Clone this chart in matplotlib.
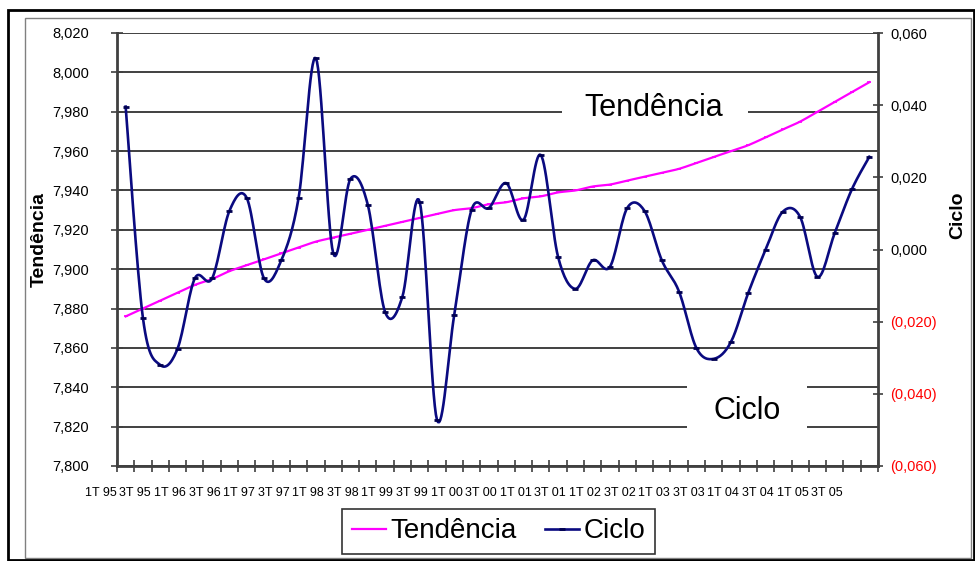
import numpy as np
import matplotlib

matplotlib.use("Agg")
from matplotlib import pyplot as plt
from matplotlib.patches import Rectangle
from matplotlib.transforms import ScaledTranslation

plt.rcParams["font.family"] = ["Liberation Sans", "DejaVu Sans"]

years = ["95", "96", "97", "98", "99", "00", "01", "02", "03", "04", "05"]
quarters = [f"{q}T {y}" for y in years for q in (1, 2, 3, 4)]
tick_labels = quarters[::2]

tendencia = [7.876, 7.880, 7.884, 7.888, 7.892, 7.895, 7.899, 7.902, 7.905, 7.908,
             7.911, 7.914, 7.916, 7.918, 7.920, 7.922, 7.924, 7.926, 7.928, 7.930,
             7.931, 7.933, 7.934, 7.936, 7.937, 7.939, 7.940, 7.942, 7.943, 7.945,
             7.947, 7.949, 7.951, 7.954, 7.957, 7.960, 7.963, 7.967, 7.971, 7.975,
             7.980, 7.985, 7.990, 7.995]

ciclo = [0.0396, -0.0190, -0.0320, -0.0275, -0.0080, -0.0080, 0.0107, 0.0143, -0.0080, -0.0030,
         0.0143, 0.0530, -0.0010, 0.0196, 0.0124, -0.0173, -0.0131, 0.0132, -0.0472, -0.0181,
         0.0110, 0.0115, 0.0184, 0.0082, 0.0262, -0.0020, -0.0109, -0.0030, -0.0048, 0.0115,
         0.0107, -0.0030, -0.0117, -0.0273, -0.0303, -0.0256, -0.0120, -0.0001, 0.0105, 0.0090,
         -0.0076, 0.0046, 0.0168, 0.0257]

left_ticks = np.linspace(7.8, 8.02, 12)
right_ticks = np.linspace(-0.06, 0.06, 7)

N = 16


def smooth(x, y, n=N):
    # bezier smoothing like excel's "smoothed line"
    p = np.column_stack([x, y]).astype(float)
    p = np.vstack([p[0], p, p[-1]])
    out = []
    t = np.linspace(0, 1, n, endpoint=False)[:, None]
    for i in range(1, len(p) - 2):
        p0, p1, p2, p3 = p[i - 1], p[i], p[i + 1], p[i + 2]
        c1 = p1 + (p2 - p0) / 6
        c2 = p2 - (p3 - p1) / 6
        out.append((1 - t) ** 3 * p1 + 3 * (1 - t) ** 2 * t * c1 + 3 * (1 - t) * t ** 2 * c2 + t ** 3 * p2)
    out.append(p[-2][None])
    out = np.vstack(out)
    return out[:, 0], out[:, 1]


def fmt_left(v):
    return f"{v:.3f}".replace(".", ",")


def fmt_right(v):
    s = f"{abs(v):.3f}".replace(".", ",")
    return f"({s})" if v < -1e-9 else s


fig = plt.figure(figsize=(9.75, 5.61), dpi=100)
ax = fig.add_axes([117 / 975, 1 - 466 / 561, 761 / 975, 433 / 561])
ax2 = ax.twinx()

x = np.arange(len(quarters))
tx, ty = smooth(x, tendencia)
cx, cy = smooth(x, ciclo)

l1, = ax.plot(tx, ty, color="#ff00ff", lw=1.6, marker="_", ms=3, mew=1.2,
              markevery=slice(0, None, N), zorder=3)
l2, = ax2.plot(cx, cy, color="#0a0a80", lw=1.9, marker="_", ms=5, mew=2, mec="#000050",
               markevery=slice(0, None, N), zorder=3)

ax.set_xlim(-0.5, len(quarters) - 0.5)
ax.set_ylim(7.8, 8.02)
ax2.set_ylim(-0.06, 0.06)

ax.set_yticks(left_ticks)
ax.set_yticklabels([fmt_left(v) for v in left_ticks])
ax2.set_yticks(right_ticks)
ax2.set_yticklabels([fmt_right(v) for v in right_ticks])
for lab in ax2.get_yticklabels():
    if "(" in lab.get_text():
        lab.set_color("red")

ax.yaxis.grid(True, color="#404040", lw=1.4)
ax.set_axisbelow(True)

axc = "#404040"
ax.tick_params(axis="y", direction="inout", length=9, width=1.2, color=axc, pad=15.5, labelsize=10.5)
ax2.tick_params(axis="y", direction="inout", length=6.5, width=1.2, color=axc, pad=5.4, labelsize=10.5)
ax.tick_params(axis="x", which="minor", direction="inout", length=8, width=1.2, color=axc)
ax.tick_params(axis="x", which="major", length=0, pad=15, labelsize=9)

ax.set_xticks(np.arange(-0.5, len(quarters), 1), minor=True)
ax.set_xticks(x[::2])
ax.set_xticklabels(tick_labels, ha="center")
# excel puts the labels left of the category
shift = ScaledTranslation(-25 / 100, 0, fig.dpi_scale_trans)
for lab in ax.get_xticklabels():
    lab.set_transform(lab.get_transform() + shift)

for a in (ax, ax2):
    a.spines["top"].set_visible(False)
    for s in a.spines.values():
        s.set_color(axc)
        s.set_linewidth(2)
ax.spines["right"].set_visible(False)
ax2.spines["left"].set_visible(False)
ax2.spines["bottom"].set_visible(False)

# text boxes inside the plot
ax2.add_patch(Rectangle((0.5848, 0.7575), 0.2444, 0.1386, transform=ax2.transAxes,
                        fc="white", ec="none", zorder=5))
ax2.text(0.7056, 0.8268, "Tendência", transform=ax2.transAxes, fontsize=22,
         ha="center", va="center", zorder=6)
ax2.add_patch(Rectangle((0.749, 0.0647), 0.1577, 0.127, transform=ax2.transAxes,
                        fc="white", ec="none", zorder=5))
ax2.text(0.8279, 0.127, "Ciclo", transform=ax2.transAxes, fontsize=22,
         ha="center", va="center", zorder=6)

fig.text(39 / 975, 1 - 240 / 561, "Tendência", rotation=90, fontsize=14, fontweight="bold",
         ha="center", va="center")
fig.text(958 / 975, 1 - 215 / 561, "Ciclo", rotation=90, fontsize=14, fontweight="bold",
         ha="center", va="center")

leg = fig.legend([l1, l2], ["Tendência", "Ciclo"], loc="center",
                 bbox_to_anchor=(498.5 / 975, 1 - 531.5 / 561), ncol=2, fontsize=20,
                 frameon=True, fancybox=False, edgecolor="black", handlelength=1.25,
                 handletextpad=0.15, columnspacing=1.0, borderpad=0.35, borderaxespad=0)
leg.get_frame().set_linewidth(1.2)

# chart frames
fig.add_artist(Rectangle((25 / 975, 1 - 558 / 561), 946 / 975, 540 / 561,
                         transform=fig.transFigure, fill=False, ec="#808080", lw=1))
fig.add_artist(Rectangle((8 / 975, 1 - 560 / 561), 966 / 975, 550 / 561,
                         transform=fig.transFigure, fill=False, ec="black", lw=2))

fig.savefig("out.png", dpi=100)
